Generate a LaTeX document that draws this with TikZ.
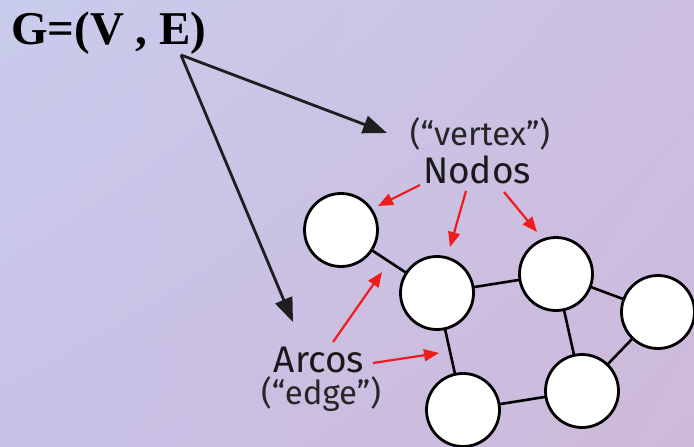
\documentclass[tikz,border=0pt]{standalone}
\usepackage{fontspec}
\setmainfont{Liberation Serif}
\newfontfamily\lblfont{Fira Sans}
\usetikzlibrary{arrows.meta,shadings}
\definecolor{bgUL}{HTML}{C9CCEC}
\definecolor{bgUR}{HTML}{CCBFE3}
\definecolor{bgLL}{HTML}{C8C1E7}
\definecolor{bgLR}{HTML}{CEB9D9}
\definecolor{arrowred}{HTML}{EE1C1C}
\definecolor{darkline}{HTML}{1E1E1E}
\tikzset{
  vtx/.style={circle, draw=black, line width=2.8pt, fill=white, minimum size=73pt, inner sep=0pt},
  edg/.style={draw=black, line width=2.6pt},
  bigarrow/.style={draw=darkline, line width=2.8pt, -{Triangle[length=24pt,width=18pt]}},
  redarrow/.style={draw=arrowred, line width=2.2pt, -{Triangle[length=15pt,width=12pt]}},
  lbl/.style={font=\lblfont\fontsize{37}{40}\selectfont, inner sep=0pt, text=black!90},
  sublbl/.style={font=\lblfont\fontsize{33}{36}\selectfont, inner sep=0pt, text=black!85},
}
\begin{document}
\begin{tikzpicture}[x=1pt,y=-1pt]
\useasboundingbox (0,0) rectangle (694,447);
\shade[upper left=bgUL, upper right=bgUR, lower left=bgLL, lower right=bgLR] (0,0) rectangle (694,447);

% title
\node[font=\bfseries\fontsize{47}{50}\selectfont, inner sep=0pt, anchor=base west] (title) at (11,44) {G=(V , E)};
\coordinate (src) at (181,55);

% edges drawn first between vertex centres
\coordinate (cA) at (341,230);
\coordinate (cB) at (437,293);
\coordinate (cC) at (556,274);
\coordinate (cD) at (658,312);
\coordinate (cE) at (582,391);
\coordinate (cF) at (463,410);
\path[edg] (cA) -- (cB);
\path[edg] (cB) -- (cC);
\path[edg] (cC) -- (cD);
\path[edg] (cC) -- (cE);
\path[edg] (cD) -- (cE);
\path[edg] (cB) -- (cF);
\path[edg] (cF) -- (cE);

% vertices
\node[vtx] (A) at (cA) {};
\node[vtx] (B) at (cB) {};
\node[vtx] (C) at (cC) {};
\node[vtx] (D) at (cD) {};
\node[vtx] (E) at (cE) {};
\node[vtx] (F) at (cF) {};

% labels
\node[sublbl] (vertex) at (480,134) {(“vertex”)};
\node[lbl] (nodos) at (477,170) {Nodos};
\node[lbl] (arcos) at (319,360) {Arcos};
\node[sublbl] (edge) at (321,394) {(“edge”)};

% black arrows
\coordinate (t1) at (387,133);
\coordinate (t2) at (293,322);
\draw[bigarrow] (src) -- (t1);
\draw[bigarrow] (src) -- (t2);

% red arrows
\coordinate (n1s) at (420,185); \coordinate (n1e) at (378,206);
\coordinate (n2s) at (466,191); \coordinate (n2e) at (450,247);
\coordinate (n3s) at (504,192); \coordinate (n3e) at (537,232);
\coordinate (a1s) at (333,342); \coordinate (a1e) at (382,272);
\coordinate (a2s) at (373,363); \coordinate (a2e) at (439,353);
\draw[redarrow] (n1s) -- (n1e);
\draw[redarrow] (n2s) -- (n2e);
\draw[redarrow] (n3s) -- (n3e);
\draw[redarrow] (a1s) -- (a1e);
\draw[redarrow] (a2s) -- (a2e);
\end{tikzpicture}
\end{document}
